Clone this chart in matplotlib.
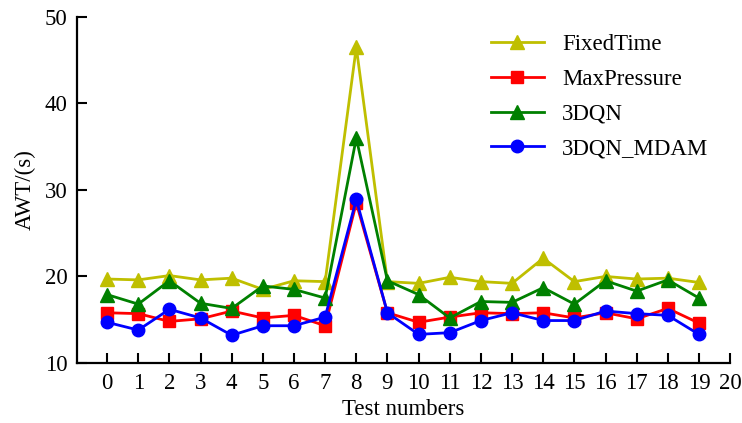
import matplotlib.pyplot as plt
import numpy as np

plt.rcParams['font.family'] = ['Liberation Serif', 'DejaVu Serif']

tests = np.arange(20)
fixed_time = [19.7, 19.6, 20.1, 19.6, 19.8, 18.5, 19.5, 19.4, 46.5, 19.4,
              19.2, 19.9, 19.4, 19.2, 22.1, 19.4, 20.0, 19.7, 19.8, 19.3]
max_pressure = [15.8, 15.7, 14.8, 15.1, 16.0, 15.2, 15.5, 14.3, 28.5, 15.8,
                14.7, 15.3, 15.8, 15.7, 15.8, 15.2, 15.8, 15.1, 16.3, 14.6]
dqn = [17.9, 16.8, 19.5, 16.9, 16.3, 18.9, 18.5, 17.5, 36.0, 19.5,
       17.9, 15.2, 17.1, 17.0, 18.7, 16.8, 19.5, 18.3, 19.6, 17.5]
dqn_mdam = [14.7, 13.8, 16.2, 15.2, 13.2, 14.3, 14.3, 15.3, 28.9, 15.8,
            13.3, 13.5, 14.9, 15.8, 14.9, 14.9, 16.0, 15.7, 15.5, 13.3]

fig = plt.figure(figsize=(7.42, 4.23), dpi=100)
ax = fig.add_axes([0.104, 0.142, 0.88, 0.818])

lw = 2.0
ax.plot(tests, fixed_time, color='y', marker='^', markersize=10, linewidth=lw, label='FixedTime')
ax.plot(tests, max_pressure, color='red', marker='s', markersize=9, linewidth=lw, label='MaxPressure')
ax.plot(tests, dqn, color='green', marker='^', markersize=10, linewidth=lw, label='3DQN')
ax.plot(tests, dqn_mdam, color='blue', marker='o', markersize=9, linewidth=lw, label='3DQN_MDAM')

ax.set_xlim(-0.96, 20)
ax.set_ylim(10, 50)
ax.set_xticks(np.arange(0, 21))
ax.set_yticks([10, 20, 30, 40, 50])

ax.spines['top'].set_visible(False)
ax.spines['right'].set_visible(False)
ax.spines['left'].set_linewidth(1.6)
ax.spines['bottom'].set_linewidth(1.6)
ax.tick_params(direction='in', length=7, width=1.5, labelsize=16.5, pad=7)

ax.set_xlabel('Test numbers', fontsize=16.5, labelpad=4)
ax.set_ylabel('AWT/(s)', fontsize=16.5, labelpad=6)

ax.legend(loc='upper right', frameon=False, fontsize=16.5, handlelength=2.3,
          bbox_to_anchor=(0.998, 1.01), labelspacing=0.6, handletextpad=0.8)

plt.savefig('out.png', dpi=100)
